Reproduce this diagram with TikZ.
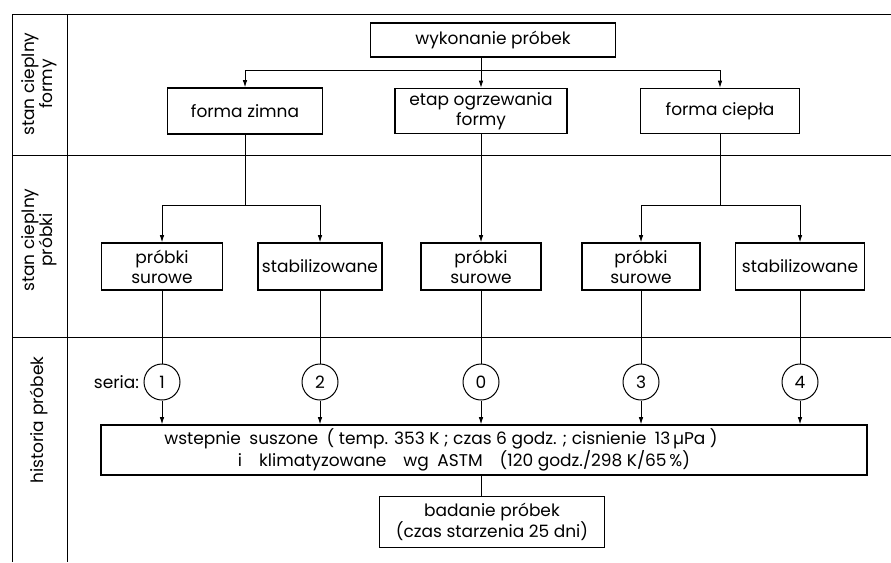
\documentclass[tikz,border=0pt]{standalone}
\usepackage{fontspec}
\setmainfont{Poppins}
\usetikzlibrary{positioning,arrows.meta}

\begin{document}
\begin{tikzpicture}[x=1pt, y=-1pt,
    box/.style={draw, line width=1.6pt, align=center, inner sep=2pt,
                font=\fontsize{17}{20}\selectfont},
    serie/.style={draw, circle, line width=1pt, minimum size=36pt, inner sep=0pt,
                font=\fontsize{17}{20}\selectfont},
    conn/.style={line width=0.8pt},
    arr/.style={conn, -{Latex[length=7pt,width=4.5pt]}},
    frame/.style={line width=1pt},
    rowlabel/.style={rotate=90, align=center, font=\fontsize{17}{18}\selectfont}
  ]
    \useasboundingbox (0,0) rectangle (891,562);
    % frame and row labels
    \draw[frame] (891,14) -- (12,14) -- (12,562);
    \draw[frame] (67,14) -- (67,562);
    \draw[frame] (12,155) -- (891,155);
    \draw[frame] (12,337) -- (891,337);
    \node[rowlabel] (lab1) at (39.5,84) {stan cieplny\\formy};
    \node[rowlabel] (lab2) at (39.5,240) {stan cieplny\\próbki};
    \node[rowlabel] (lab3) at (39.5,420) {historia próbek};

    % stan cieplny formy
    \node[box, minimum width=245pt, minimum height=34pt] (wyk) at (493,40) {wykonanie próbek};
    \node[box, minimum width=155pt, minimum height=46pt] (zimna) at (245,111) {forma zimna};
    \node[box, minimum width=172pt, minimum height=45pt] (etap) at (481,111) {etap ogrzewania\\formy};
    \node[box, minimum width=159pt, minimum height=45pt] (ciepla) at (720,111) {forma ciepła};

    % stan cieplny probki
    \node[box, minimum width=121pt, minimum height=47pt] (ps1) at (162,266.5) {próbki\\surowe};
    \node[box, minimum width=124pt, minimum height=47pt] (st2) at (320,266.5) {stabilizowane};
    \node[box, minimum width=120pt, minimum height=47pt] (ps0) at (481,266.5) {próbki\\surowe};
    \node[box, minimum width=118pt, minimum height=47pt] (ps3) at (641,266.5) {próbki\\surowe};
    \node[box, minimum width=129pt, minimum height=47pt] (st4) at (800,266.5) {stabilizowane};

    % historia probek
    \node[serie] (c1) at (162,382) {1};
    \node[serie] (c2) at (320,382) {2};
    \node[serie] (c0) at (481,382) {0};
    \node[serie] (c3) at (641,382) {3};
    \node[serie] (c4) at (800,382) {4};
    \node[left=1pt of c1, font=\fontsize{17}{20}\selectfont] (seria) {seria:};
    \node[box, minimum width=766pt, minimum height=50pt] (prep) at (484,450) {
      wstepnie\enspace suszone\enspace ( temp. 353 K ; czas 6 godz. ; cisnienie\enspace 13\,µPa )\hspace*{86pt}\\
      i\quad klimatyzowane\quad wg\enspace ASTM\quad (120 godz./298 K/65\,\%)\hspace*{40pt}
    };
    \node[box, minimum width=225pt, minimum height=51pt] (bad) at (492,522) {
      badanie próbek\\
      (czas starzenia 25 dni)
    };

    \coordinate (s1) at (481,70);
    \coordinate (s2) at (245,205);
    \coordinate (s3) at (720,205);
    \draw[conn] (wyk.south -| s1) -- (s1);
    \draw[arr] (s1) -- (etap.north);
    \draw[arr] (s1) -| (zimna.north);
    \draw[arr] (s1) -| (ciepla.north);
    \draw[conn] (zimna.south -| s2) -- (s2);
    \draw[arr] (s2) -| (ps1.north);
    \draw[arr] (s2) -| (st2.north);
    \draw[arr] (etap.south) -- (ps0.north);
    \draw[conn] (ciepla.south -| s3) -- (s3);
    \draw[arr] (s3) -| (ps3.north);
    \draw[arr] (s3) -| (st4.north);
    \foreach \p/\c in {ps1/c1, st2/c2, ps0/c0, ps3/c3, st4/c4} {
      \draw[conn] (\p) -- (\c);
      \draw[arr] (\c) -- (\c |- prep.north);
    }
    \draw[conn] (prep.south -| c0) -- (bad.north -| c0);
\end{tikzpicture}
\end{document}
